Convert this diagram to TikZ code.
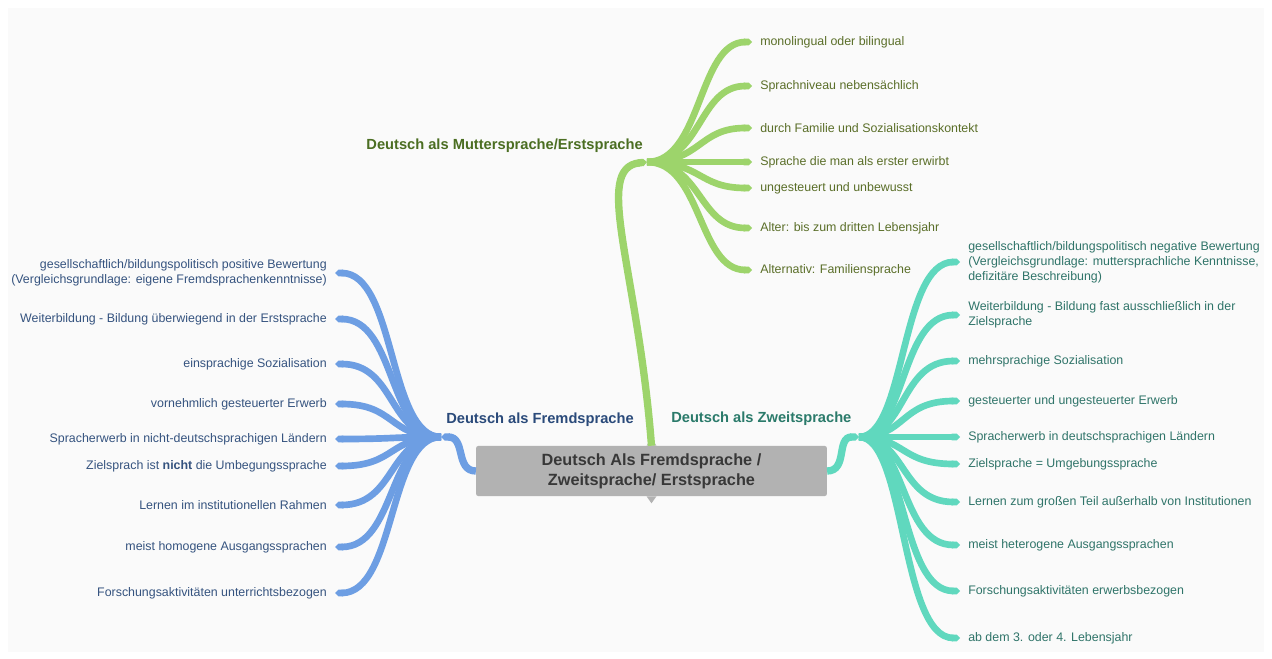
\documentclass[tikz,border=0pt]{standalone}
\usepackage{fontspec}
\setmainfont{Liberation Sans}
\usetikzlibrary{arrows.meta}
\definecolor{grnline}{HTML}{9DD46B}
\definecolor{grntext}{HTML}{5A6E28}
\definecolor{grntitle}{HTML}{4B6E22}
\definecolor{blueline}{HTML}{6D9EE3}
\definecolor{bluetext}{HTML}{35537F}
\definecolor{bluetitle}{HTML}{2A4A7A}
\definecolor{tealline}{HTML}{60D8BE}
\definecolor{tealtext}{HTML}{2F7469}
\definecolor{tealtitle}{HTML}{2A7A6A}
\definecolor{rootfill}{HTML}{B2B2B2}

\begin{document}
\begin{tikzpicture}[x=0.75pt,y=-0.75pt,
    leaf/.style={font=\fontsize{9.3}{11.25}\selectfont, inner sep=0pt, inner xsep=6pt},
    title/.style={font=\fontsize{11}{13}\selectfont\bfseries, inner sep=0pt},
    twig/.style={line width=5pt, -{Triangle Cap[]}},
    trunk/.style={line width=5.5pt}]
  \useasboundingbox (0,0) rectangle (1272,659);
  \fill[white] (0,0) rectangle (1272,659);
  \fill[gray!4] (8,8) rectangle (1264,652);

  % centre
  \node[fill=rootfill, rounded corners=1.5pt, minimum width=263pt, minimum height=37.5pt,
        align=center, text=black!78, font=\fontsize{12.2}{15}\selectfont\bfseries]
    (root) at (651.5,471) {Deutsch Als Fremdsprache /\\Zweitsprache/ Erstsprache};
  \fill[rootfill] (root.north) ++(-5,0) -- ++(5,-7) -- ++(5,7) -- cycle;
  \fill[rootfill] (root.south) ++(-5,0) -- ++(5,7) -- ++(5,-7) -- cycle;

  % hubs
  \coordinate (gh) at (647,162);
  \coordinate (bh) at (441,437);
  \coordinate (th) at (859,437);

  \node[title, text=grntitle, anchor=east] (mutter) at (643,146) {Deutsch als Muttersprache/Erstsprache};
  \node[title, text=bluetitle, anchor=west] (fremd) at (446,420) {Deutsch als Fremdsprache};
  \node[title, text=tealtitle, anchor=west] (zweit) at (671,419) {Deutsch als Zweitsprache};

  \draw[trunk, grnline, -{Triangle Cap[]}] (root.north) .. controls (638,270) and (592,168) .. (gh);
  \draw[trunk, blueline, -{Triangle Cap[]}] (root.west) .. controls (455,471) and (466,437) .. (bh);
  \draw[trunk, tealline, -{Triangle Cap[]}] (root.east) .. controls (848,471) and (836,437) .. (th);

  % Muttersprache
  \foreach \y/\txt [count=\i] in {42/{monolingual oder bilingual},
      86/{Sprachniveau nebensächlich},
      128/{durch Familie und Sozialisationskontekt},
      162/{Sprache die man als erster erwirbt},
      188/{ungesteuert und unbewusst},
      228/{Alter: bis zum dritten Lebensjahr},
      270/{Alternativ: Familiensprache}}{
    \node[leaf, text=grntext, anchor=west] (g\i) at (752,\y) {\txt};
    \draw[twig, grnline] (gh) .. controls (702,162) and (698,\y) .. (g\i.west);
  }

  % Fremdsprache
  \foreach \y/\txt [count=\i] in {273/{gesellschaftlich/bildungspolitisch positive Bewertung\\(Vergleichsgrundlage: eigene Fremdsprachenkenntnisse)},
      319/{Weiterbildung - Bildung überwiegend in der Erstsprache},
      364/{einsprachige Sozialisation},
      404/{vornehmlich gesteuerter Erwerb},
      439/{Spracherwerb in nicht-deutschsprachigen Ländern},
      466/{Zielsprach ist \textbf{nicht} die Umbegungssprache},
      505/{Lernen im institutionellen Rahmen},
      547/{meist homogene Ausgangssprachen},
      593/{Forschungsaktivitäten unterrichtsbezogen}}{
    \node[leaf, text=bluetext, anchor=east, align=right] (b\i) at (335,\y) {\txt};
    \draw[twig, blueline] (bh) .. controls (388,437) and (396,\y) .. (b\i.east);
  }

  % Zweitsprache
  \foreach \y/\txt [count=\i] in {262/{gesellschaftlich/bildungspolitisch negative Bewertung\\(Vergleichsgrundlage: muttersprachliche Kenntnisse,\\defizitäre Beschreibung)},
      315/{Weiterbildung - Bildung fast ausschließlich in der\\Zielsprache},
      361/{mehrsprachige Sozialisation},
      401/{gesteuerter und ungesteuerter Erwerb},
      437/{Spracherwerb in deutschsprachigen Ländern},
      464/{Zielsprache = Umgebungssprache},
      502/{Lernen zum großen Teil außerhalb von Institutionen},
      545/{meist heterogene Ausgangssprachen},
      591/{Forschungsaktivitäten erwerbsbezogen},
      638/{ab dem 3. oder 4. Lebensjahr}}{
    \node[leaf, text=tealtext, anchor=west, align=left] (t\i) at (960,\y) {\txt};
    \draw[twig, tealline] (th) .. controls (906,437) and (900,\y) .. (t\i.west);
  }
\end{tikzpicture}
\end{document}
